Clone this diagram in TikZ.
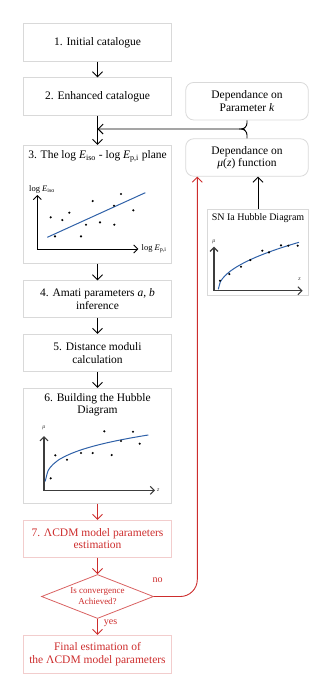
\documentclass[tikz,border=0pt]{standalone}
\usepackage{fontspec}
\setmainfont{Liberation Serif}
\usetikzlibrary{arrows.meta,shapes.geometric}
\definecolor{cBox}{RGB}{217,217,217}
\definecolor{cRed}{RGB}{205,45,45}
\definecolor{cPink}{RGB}{242,205,205}
\definecolor{cFit}{RGB}{47,97,168}
\definecolor{cAxis}{RGB}{60,60,60}
\tikzset{
  stage/.style={draw=cBox,line width=0.8pt,minimum width=148.4pt,inner sep=0pt,align=center,font=\fontsize{11.5}{12.5}\selectfont},
  param/.style={stage,rounded corners=8pt,minimum width=122.6pt,minimum height=37.5pt},
  ttl/.style={align=center,inner sep=0pt,font=\fontsize{11.5}{12.5}\selectfont},
  arr/.style={line width=0.9pt,-{Straight Barb[length=5pt,width=10pt]}},
  axes/.style={line width=0.9pt,{Straight Barb[length=4pt,width=8pt]}-{Straight Barb[length=4pt,width=8pt]}},
  axlbl/.style={inner sep=0pt,font=\fontsize{8.5}{9}\selectfont},
  tiny lbl/.style={inner sep=0pt,font=\fontsize{6}{6}\selectfont\itshape,text=cAxis}
}
\begin{document}
\begin{tikzpicture}[x=1pt,y=-1pt]
\useasboundingbox (0,0) rectangle (332,699);
% main column
\node[stage,minimum height=38pt] (cat1) at (97.5,42.3) {1. Initial catalogue};
\node[stage,minimum height=37.6pt] (cat2) at (97.5,96.5) {2. Enhanced catalogue};
\node[stage,minimum height=118pt] (plane) at (97.5,204.3) {};
\node[ttl] (planett) at (97.5,156.5) {3. The log \textit{E}\textsubscript{iso} - log \textit{E}\textsubscript{p,i} plane};
\node[stage,minimum height=36.6pt] (amati) at (97.5,299) {4. Amati parameters \textit{a}, \textit{b}\\inference};
\node[stage,minimum height=37.4pt] (dist) at (97.5,353) {5. Distance moduli\\calculation};
\node[stage,minimum height=115pt] (hub) at (97.5,445.8) {};
\node[ttl] (hubtt) at (97.5,404.5) {6. Building the Hubble\\Diagram};
\node[stage,draw=cPink,text=cRed,minimum height=37pt] (lcdm) at (97.5,538.8) {7. ΛCDM model parameters\\estimation};
\node[diamond,draw=cRed!75,line width=0.8pt,text=cRed,shape aspect=2.55,minimum width=112pt,minimum height=44pt,inner sep=0pt,align=center,font=\fontsize{9}{11}\selectfont] (conv) at (97.5,596.5) {Is convergence\\Achieved?};
\node[stage,draw=cPink,text=cRed,minimum height=38pt] (final) at (97.5,654.3) {Final estimation of\\the ΛCDM model parameters};
% right column
\node[param] (depk) at (247,101.2) {Dependance on\\Parameter \textit{k}};
\node[param] (depmu) at (247,157.5) {Dependance on\\\textit{μ}(\textit{z}) function};
\node[stage,minimum width=100.6pt,minimum height=86.4pt] (snbox) at (258,252.5) {};
\node[ttl,font=\fontsize{10}{11}\selectfont] (sntt) at (258,218.3) {SN Ia Hubble Diagram};
\coordinate (jn) at (239,129);
% connectors
\draw[arr] (cat1) -- (cat2);
\draw[arr] (cat2) -- (plane);
\draw[arr] (plane) -- (amati);
\draw[arr] (amati) -- (dist);
\draw[arr] (dist) -- (hub);
\draw[arr,cRed] (hub) -- (lcdm);
\draw[arr,cRed] (lcdm) -- (conv);
\draw[arr,cRed] (conv) -- node[pos=0.3,anchor=west,xshift=6pt,inner sep=0pt,font=\fontsize{10}{11}\selectfont] (yes) {yes} (final);
\draw[arr,cRed,rounded corners=17pt] (conv.east) -| ([xshift=12pt]depmu.south west);
\node[inner sep=0pt,text=cRed,font=\fontsize{10}{11}\selectfont] (no) at (157.5,580.5) {no};
\draw[arr] (snbox.north) -- (snbox.north |- depmu.south);
\draw[line width=0.9pt,rounded corners=6pt] (depk.south) |- (jn);
\draw[arr,rounded corners=6pt] (depmu.north) |- (jn) -- (jn -| cat2.south);
% log E_iso - log E_p,i plot
\draw[axes] (37.3,195) |- (138.3,249);
\draw[cFit,line width=1pt] (47.3,237.3) -- (145.3,192.7);
\fill (50.7,217.3) circle (1.2pt);
\fill (62.3,220) circle (1.2pt);
\fill (69.3,212.7) circle (1.2pt);
\fill (92.7,201) circle (1.2pt);
\fill (121,194) circle (1.2pt);
\fill (114,205.7) circle (1.2pt);
\fill (133.3,210.3) circle (1.2pt);
\fill (86,224.7) circle (1.2pt);
\fill (100,222.3) circle (1.2pt);
\fill (114.3,224.7) circle (1.2pt);
\fill (81,236.3) circle (1.2pt);
\fill (55,236.3) circle (1.2pt);
\node[axlbl,anchor=west] (eiso) at (29,189.5) {log \textit{E}\textsubscript{iso}};
\node[axlbl,anchor=west] (epi) at (141.5,249) {log \textit{E}\textsubscript{p,i}};
% Hubble diagram
\draw[axes,cAxis,line width=1.1pt] (44,436) |- (155,490.3);
\draw[cFit,line width=1pt] plot[domain=0.002:1,samples=40,smooth] ({45+103.3*\x},{490-55*(\x)^0.3});
\fill (50.7,478.3) circle (1.2pt);
\fill (55.3,455.3) circle (1.2pt);
\fill (67,459.7) circle (1.2pt);
\fill (81,453) circle (1.2pt);
\fill (92.7,453) circle (1.2pt);
\fill (104.3,431.3) circle (1.2pt);
\fill (111.7,455) circle (1.2pt);
\fill (121,441) circle (1.2pt);
\fill (133,431.7) circle (1.2pt);
\fill (139.7,443.7) circle (1.2pt);
\node[tiny lbl] (mu1) at (44,427.5) {μ};
\node[tiny lbl,anchor=west] (z1) at (157,490.3) {z};
% SN Ia diagram
\draw[axes,cAxis,line width=1.1pt] (214,246.7) |- (302.7,290.7);
\draw[cFit,line width=1pt] plot[domain=0:1,samples=40,smooth] ({218.3+80.7*\x},{289.3-47*sqrt(\x)});
\fill (220,280.7) circle (1.2pt);
\fill (229.3,274) circle (1.2pt);
\fill (241,266.7) circle (1.2pt);
\fill (250.3,260) circle (1.2pt);
\fill (262.3,250.7) circle (1.2pt);
\fill (269,252.3) circle (1.2pt);
\fill (281,245.3) circle (1.2pt);
\fill (288.3,245.7) circle (1.2pt);
\fill (297.7,245.7) circle (1.2pt);
\node[tiny lbl] (mu2) at (214,241.5) {μ};
\node[tiny lbl] (z2) at (299.5,279.3) {z};
\end{tikzpicture}
\end{document}
